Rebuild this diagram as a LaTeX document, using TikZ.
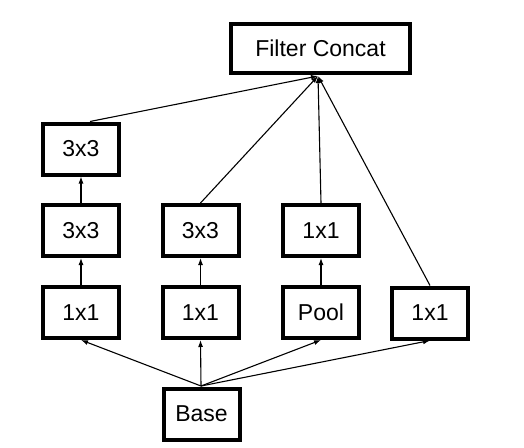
\documentclass[tikz,border=0pt]{standalone}
\usepackage{fontspec}
\setmainfont{Liberation Sans}
\usetikzlibrary{arrows.meta}
\begin{document}
\begin{tikzpicture}[x=1pt,y=-1pt,
  blk/.style={draw=black, line width=4pt, fill=white, minimum width=76pt, minimum height=51pt, inner sep=0pt, font=\fontsize{23}{26}\selectfont},
  con/.style={line width=1.1pt, -{Latex[length=7pt,width=5pt]}}]
\useasboundingbox (0,0) rectangle (524,447);
\node[blk, minimum width=179pt, minimum height=49pt] (fc) at (320.5,48.5) {Filter Concat};
\node[blk] (a3) at (81,149) {3x3};
\node[blk] (a2) at (81,230.5) {3x3};
\node[blk] (a1) at (81,312.5) {1x1};
\node[blk] (b2) at (200.5,230.5) {3x3};
\node[blk] (b1) at (200.5,312.5) {1x1};
\node[blk] (c2) at (321,230.5) {1x1};
\node[blk] (c1) at (321,312.5) {Pool};
\node[blk] (d1) at (430,313) {1x1};
\node[blk] (base) at (201.5,414) {Base};
\coordinate (fcin) at (318,76);
\coordinate (bout) at (201,386);
\draw[con] (bout) -- (a1.south);
\draw[con] (bout) -- (b1.south);
\draw[con] (bout) -- (c1.south);
\draw[con] (bout) -- (d1.south);
\draw[con] (a1) -- (a2);
\draw[con] (a2) -- (a3);
\draw[con] (b1) -- (b2);
\draw[con] (c1) -- (c2);
\draw[con] ([xshift=9pt]a3.north) -- (fcin);
\draw[con] (b2.north) -- (fcin);
\draw[con] (c2.north) -- (fcin);
\draw[con] (d1.north) -- (fcin);
\end{tikzpicture}
\end{document}
